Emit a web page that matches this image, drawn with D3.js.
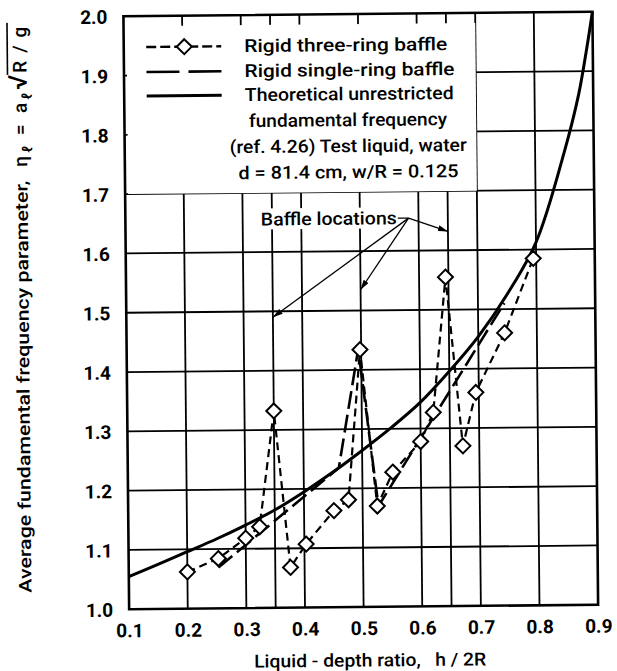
<!DOCTYPE html>
<html><head><meta charset="utf-8">
<script src="https://cdn.jsdelivr.net/npm/d3@7"></script>
<style>body{margin:0;background:#fff}</style>
</head><body>
<svg id="c" width="617" height="671"></svg>
<script>
// ---- data ----
const xTicks = [0.1,0.2,0.3,0.4,0.5,0.6,0.7,0.8,0.9];
const xTickLabels = ["0.1","0.2","0.3","0.4","0.5","0.6","0.7","0.8","0.9"];
const yTicks = [1.0,1.1,1.2,1.3,1.4,1.5,1.6,1.7,1.8,1.9,2.0];
const yTickLabels = ["1.0","1.1","1.2","1.3","1.4","1.5","1.6","1.7","1.8","1.9","2.0"];
const baffleLocations = [0.35,0.5,0.65];
const threeRingX = [0.2,0.253,0.3,0.324,0.35,0.376,0.403,0.451,0.476,0.498,0.525,0.552,0.6,0.622,0.645,0.672,0.695,0.745,0.795];
const threeRingY = [1.062,1.084,1.118,1.137,1.332,1.068,1.107,1.163,1.181,1.434,1.17,1.227,1.278,1.327,1.555,1.27,1.36,1.46,1.585];
const singleRingX = [0.253,0.46,0.495,0.527,0.745];
const singleRingY = [1.069,1.235,1.435,1.17,1.51];
const theoryX = [0.1,0.15,0.2,0.25,0.3,0.35,0.4,0.45,0.5,0.55,0.6,0.65,0.7,0.75,0.8,0.85,0.875,0.89,0.9];
const theoryY = [1.055,1.075,1.096,1.117,1.14,1.165,1.195,1.228,1.264,1.302,1.344,1.396,1.454,1.525,1.612,1.765,1.86,1.94,2.0];
const legendLabels = ["Rigid three-ring baffle","Rigid single-ring baffle","Theoretical unrestricted"];
const noteLines = ["fundamental frequency","(ref. 4.26) Test liquid, water","d = 81.4 cm, w/R = 0.125"];

// ---- drawing ----
const svg = d3.select("#c");
const root = svg.append("g").attr("transform","rotate(-0.55,308,335)");
const x = d3.scaleLinear().domain([0.1,0.9]).range([126.5,595.5]);
const y = d3.scaleLinear().domain([1,2]).range([607.5,14.5]);
const FONT = "Roboto,'Liberation Sans',Arial,sans-serif";
const TW = 500;

// grid
const gridX = xTicks.slice(1,-1).concat(baffleLocations.filter(v=>!xTicks.includes(v)));
root.append("g").selectAll("line").data(gridX).join("line")
  .attr("x1",d=>x(d)).attr("x2",d=>x(d)).attr("y1",y(1)).attr("y2",y(2))
  .attr("stroke","#000").attr("stroke-width",1.8);
root.append("g").selectAll("line").data(yTicks.slice(1,-1)).join("line")
  .attr("y1",d=>y(d)).attr("y2",d=>y(d)).attr("x1",x(0.1)).attr("x2",x(0.9))
  .attr("stroke","#000").attr("stroke-width",1.8);

// legend white box (bounded by 0.7 / 1.7 grid lines)
root.append("rect").attr("x",x(0.1)+3).attr("y",y(2)+10)
  .attr("width",x(0.7)-x(0.1)-3).attr("height",y(1.7)-y(2)-10).attr("fill","#fff");

// Baffle locations annotation
const annX = x(0.447), annY = y(1.655);
root.append("rect").attr("x",annX-72).attr("y",annY-11).attr("width",144).attr("height",21).attr("fill","#fff");
root.append("text").attr("x",annX).attr("y",annY+6).attr("text-anchor","middle")
  .attr("font-family",FONT).attr("font-weight",TW).attr("font-size",18).attr("textLength",136).attr("lengthAdjust","spacingAndGlyphs")
  .text("Baffle locations");
const defs = svg.append("defs");
defs.append("marker").attr("id","ah").attr("viewBox","0 0 10 6").attr("refX",10).attr("refY",3)
  .attr("markerWidth",10).attr("markerHeight",6).attr("markerUnits","userSpaceOnUse").attr("orient","auto")
  .append("path").attr("d","M0,0L10,3L0,6Z").attr("fill","#000");
const hub = [0.583,1.655];
root.append("line").attr("x1",annX+69).attr("y1",annY).attr("x2",x(hub[0])).attr("y2",y(hub[1]))
  .attr("stroke","#000").attr("stroke-width",1.3);
const tips = [[0.35,1.49],[0.5,1.535],[0.65,1.632]];
root.append("g").selectAll("line").data(tips).join("line")
  .attr("x1",x(hub[0])).attr("y1",y(hub[1])).attr("x2",d=>x(d[0])).attr("y2",d=>y(d[1]))
  .attr("stroke","#000").attr("stroke-width",1.3).attr("marker-end","url(#ah)");

// curves
const line = d3.line().x(d=>x(d[0])).y(d=>y(d[1]));
root.append("path").datum(theoryX.map((v,i)=>[v,theoryY[i]]))
  .attr("d",d3.line().x(d=>x(d[0])).y(d=>y(d[1])).curve(d3.curveCatmullRom.alpha(0.5)))
  .attr("fill","none").attr("stroke","#000").attr("stroke-width",3);
root.append("path").datum(singleRingX.map((v,i)=>[v,singleRingY[i]]))
  .attr("d",line).attr("fill","none").attr("stroke","#000")
  .attr("stroke-width",2.6).attr("stroke-dasharray","18,6");
const tr = threeRingX.map((v,i)=>[v,threeRingY[i]]);
root.append("path").datum(tr).attr("d",line).attr("fill","none")
  .attr("stroke","#000").attr("stroke-width",2.2).attr("stroke-dasharray","8,5");
const diamond = "M0,-7.5L7.5,0L0,7.5L-7.5,0Z";
root.append("g").selectAll("path").data(tr).join("path")
  .attr("transform",d=>`translate(${x(d[0])},${y(d[1])})`).attr("d",diamond)
  .attr("fill","#fff").attr("stroke","#000").attr("stroke-width",2);

// frame
root.append("rect").attr("x",x(0.1)).attr("y",y(2)).attr("width",x(0.9)-x(0.1)).attr("height",y(1)-y(2))
  .attr("fill","none").attr("stroke","#000").attr("stroke-width",2.6);

// axes
const xAxis = root.append("g").attr("transform",`translate(0,${y(1)+25})`)
  .call(d3.axisBottom(x).tickValues(xTicks).tickSize(0).tickFormat((d,i)=>xTickLabels[i]));
xAxis.select(".domain").remove();
xAxis.selectAll("text").attr("font-family",FONT).attr("font-size",19).attr("font-weight","bold").attr("dy","0").attr("fill","#000");
const yAxis = root.append("g").attr("transform",`translate(${x(0.1)-16},0)`)
  .call(d3.axisLeft(y).tickValues(yTicks).tickSize(0).tickFormat((d,i)=>yTickLabels[i]));
yAxis.select(".domain").remove();
yAxis.selectAll("text").attr("font-family",FONT).attr("font-size",19).attr("font-weight","bold").attr("dy","0.36em").attr("x",0).attr("fill","#000");

// axis titles
root.append("text").attr("x",367).attr("y",667).attr("text-anchor","middle")
  .attr("font-family",FONT).attr("font-weight",TW).attr("font-size",18).attr("textLength",232).attr("lengthAdjust","spacingAndGlyphs")
  .attr("xml:space","preserve").text("Liquid - depth ratio,   h / 2R");
const yt = root.append("g").attr("transform","translate(29,590) rotate(-90)");
yt.append("text").attr("x",0).attr("y",0).attr("font-family",FONT).attr("font-weight",TW).attr("font-size",17.5)
  .attr("textLength",412).attr("lengthAdjust","spacingAndGlyphs").text("Average fundamental frequency parameter,");
const f = yt.append("text").attr("x",426).attr("y",0).attr("font-family",FONT).attr("font-weight",TW).attr("font-size",19)
  .attr("textLength",92).attr("lengthAdjust","spacing");
f.append("tspan").text("η");
f.append("tspan").attr("font-size",14).attr("dy",5).text("ℓ");
f.append("tspan").attr("dy",-5).text(" = a");
f.append("tspan").attr("font-size",14).attr("dy",5).text("ℓ");
f.append("tspan").attr("dy",-5).attr("font-size",26).text("√");
const g2 = yt.append("text").attr("x",520).attr("y",0).attr("font-family",FONT).attr("font-weight",TW).attr("font-size",19)
  .attr("textLength",46).attr("lengthAdjust","spacing").text("R/g");
yt.append("line").attr("x1",518).attr("x2",570).attr("y1",-19).attr("y2",-19).attr("stroke","#000").attr("stroke-width",1.6);

// legend
const L = root.append("g");
const ly = [y(2)+31, y(2)+56, y(2)+80];
L.append("line").attr("x1",149).attr("x2",224).attr("y1",ly[0]).attr("y2",ly[0]).attr("stroke","#000").attr("stroke-width",2.4).attr("stroke-dasharray","10,4");
L.append("path").attr("d",diamond).attr("transform",`translate(187,${ly[0]})`).attr("fill","#fff").attr("stroke","#000").attr("stroke-width",2);
L.append("line").attr("x1",149).attr("x2",224).attr("y1",ly[1]).attr("y2",ly[1]).attr("stroke","#000").attr("stroke-width",2.6).attr("stroke-dasharray","33,9");
L.append("line").attr("x1",149).attr("x2",224).attr("y1",ly[2]).attr("y2",ly[2]).attr("stroke","#000").attr("stroke-width",3);
const lw = [203,210,209];
L.selectAll("text.l").data(legendLabels).join("text").attr("class","l")
  .attr("x",247).attr("y",(d,i)=>ly[i]+6).attr("font-family",FONT).attr("font-weight",TW).attr("font-size",18)
  .attr("textLength",(d,i)=>lw[i]).attr("lengthAdjust","spacingAndGlyphs").text(d=>d);
const nw = [198,237,220];
L.selectAll("text.n").data(noteLines).join("text").attr("class","n")
  .attr("x",350).attr("y",(d,i)=>ly[2]+26*(i+1)+6).attr("text-anchor","middle").attr("font-family",FONT).attr("font-weight",TW).attr("font-size",18)
  .attr("textLength",(d,i)=>nw[i]).attr("lengthAdjust","spacingAndGlyphs").text(d=>d);
</script>
</body></html>
